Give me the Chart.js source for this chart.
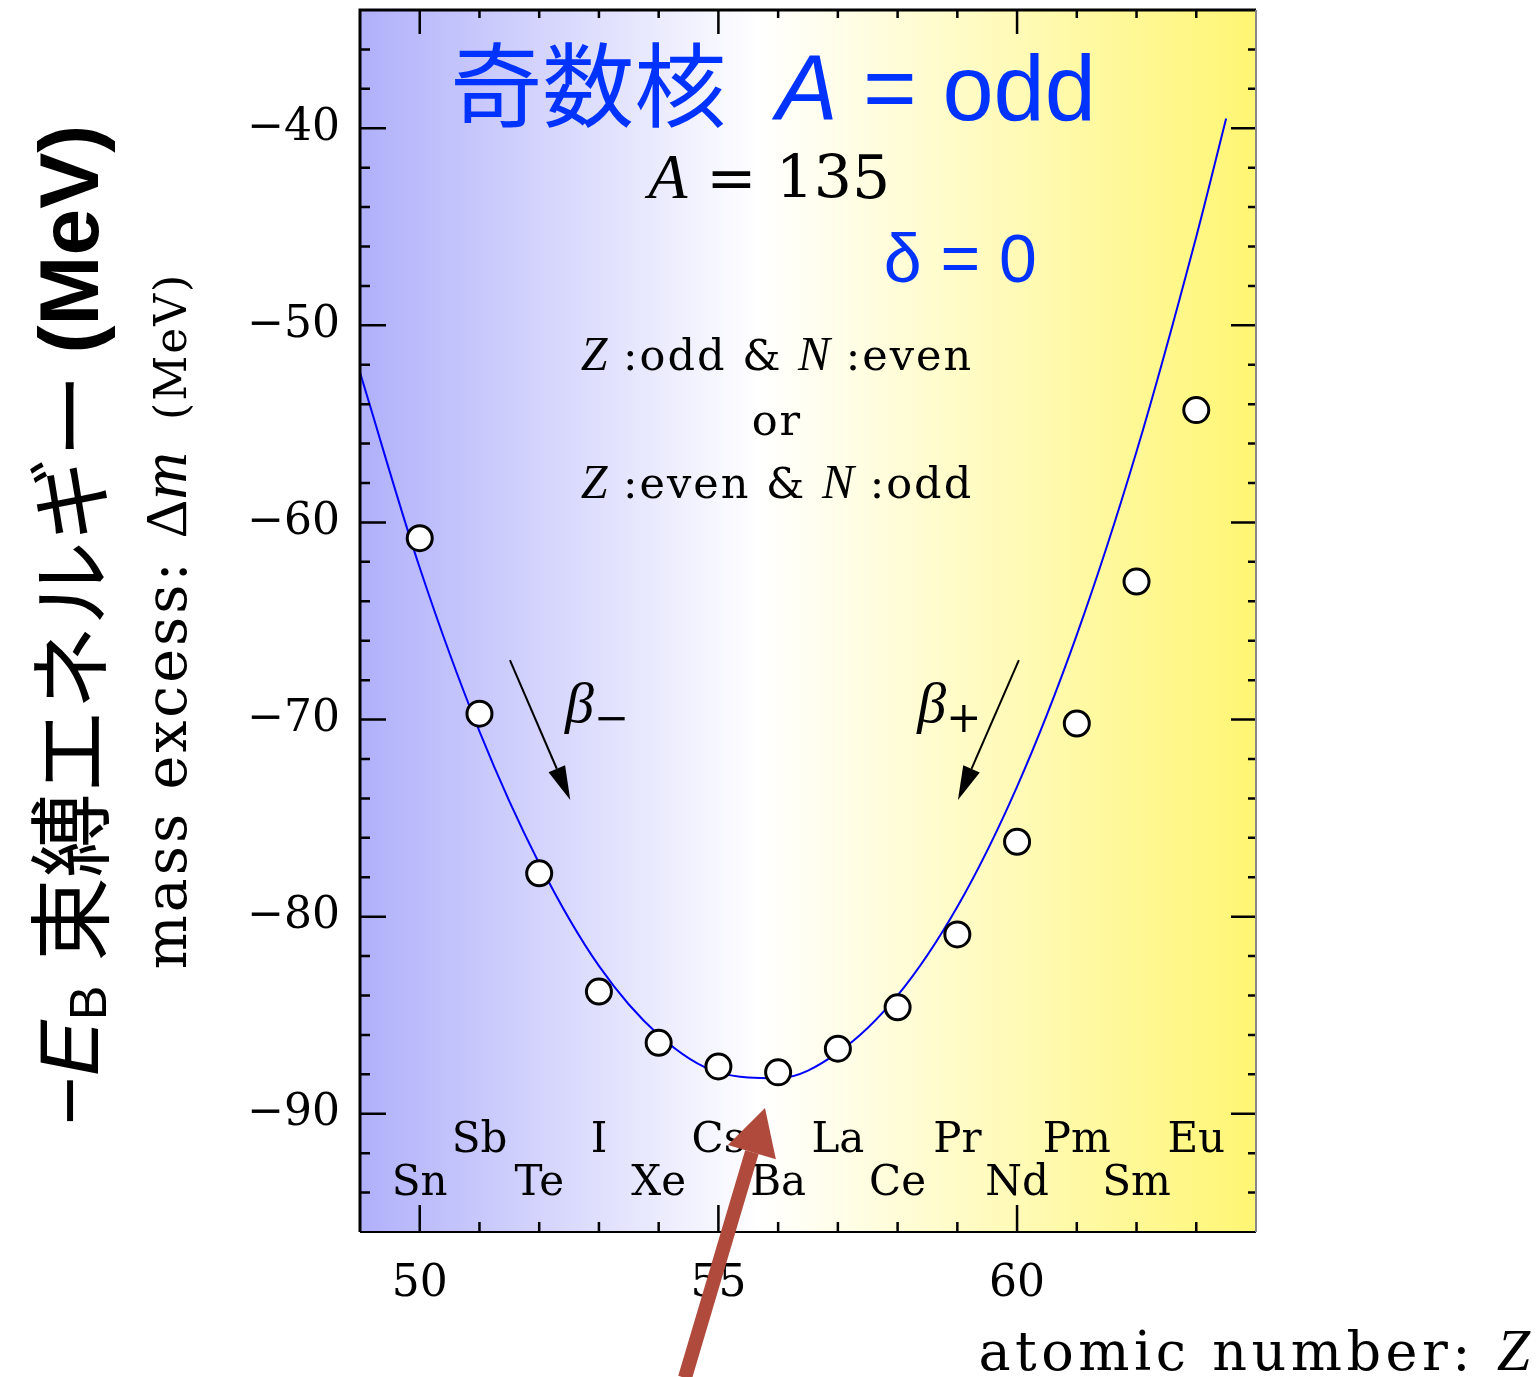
<!DOCTYPE html>
<html>
<head>
<meta charset="utf-8">
<script src="https://cdn.jsdelivr.net/npm/chart.js@4.4.0/dist/chart.umd.min.js"></script>
<style>
  html, body { margin: 0; padding: 0; background: #fff; }
  canvas { display: block; }
</style>
</head>
<body>
<canvas id="chart" width="1539" height="1377"></canvas>
<script>
// atomic number Z and element symbols for A = 135
const zValues = [50, 51, 52, 53, 54, 55, 56, 57, 58, 59, 60, 61, 62, 63];
const elements = ["Sn", "Sb", "Te", "I", "Xe", "Cs", "Ba", "La", "Ce", "Pr", "Nd", "Pm", "Sm", "Eu"];
// measured mass excess (MeV)
const massExcess = [-60.8, -69.7, -77.8, -83.8, -86.4, -87.6, -87.9, -86.7, -84.6, -80.9, -76.2, -70.2, -63.0, -54.3];
// mass formula curve
const curveZ = [49, 50, 51, 52, 53, 54, 55, 56, 57, 58, 59, 60, 61, 62, 63, 63.5];
const curveValues = [-52.4, -62.3, -70.6, -77.3, -82.5, -86.0, -87.9, -88.2, -86.9, -84.0, -79.5, -73.4, -65.7, -56.4, -45.5, -39.5];
// axis ticks
const xTickLabels = [50, 55, 60];
const yTickLabels = [-90, -80, -70, -60, -50, -40];

const BLUE = "#0033ff";
const SERIF = "'DejaVu Serif', serif";
const MATH = "'Liberation Serif', serif";
const SANS = "'Liberation Sans', Arial, sans-serif";
const CJK = "'Noto Sans CJK JP', sans-serif";

// draw a row of text pieces with different fonts
function drawRuns(ctx, runs, x, y, align) {
  let total = 0;
  runs.forEach(r => {
    ctx.font = r.f;
    ctx.letterSpacing = (r.ls || 0) + "px";
    r.w = ctx.measureText(r.t).width + (r.gap || 0);
    total += r.w;
  });
  let cx = align === "center" ? x - total / 2 : align === "right" ? x - total : x;
  runs.forEach(r => {
    ctx.font = r.f;
    ctx.letterSpacing = (r.ls || 0) + "px";
    ctx.fillStyle = r.c || "#000";
    ctx.fillText(r.t, cx, y + (r.dy || 0));
    cx += r.w;
  });
  ctx.letterSpacing = "0px";
}

function arrow(ctx, x0, y0, x1, y1, width, headLen, headW, color) {
  const ang = Math.atan2(y1 - y0, x1 - x0);
  const bx = x1 - headLen * Math.cos(ang);
  const by = y1 - headLen * Math.sin(ang);
  ctx.save();
  ctx.strokeStyle = color;
  ctx.fillStyle = color;
  ctx.lineWidth = width;
  ctx.beginPath();
  ctx.moveTo(x0, y0);
  ctx.lineTo(bx, by);
  ctx.stroke();
  const nx = -Math.sin(ang), ny = Math.cos(ang);
  ctx.beginPath();
  ctx.moveTo(x1, y1);
  ctx.lineTo(bx + nx * headW / 2, by + ny * headW / 2);
  ctx.lineTo(bx - nx * headW / 2, by - ny * headW / 2);
  ctx.closePath();
  ctx.fill();
  ctx.restore();
}

const decor = {
  id: "decor",
  beforeDraw(chart) {
    const { ctx, chartArea: a } = chart;
    const g = ctx.createLinearGradient(a.left, 0, a.right, 0);
    g.addColorStop(0, "rgb(176,176,251)");
    g.addColorStop(0.446, "#ffffff");
    g.addColorStop(1, "rgb(255,246,115)");
    ctx.save();
    ctx.fillStyle = g;
    ctx.fillRect(a.left, a.top, a.right - a.left, a.bottom - a.top);
    ctx.restore();
  },
  beforeDatasetsDraw(chart) {
    const { ctx, scales: { x, y } } = chart;
    const px = v => x.getPixelForValue(v);
    const py = v => y.getPixelForValue(v);
    ctx.save();
    ctx.textBaseline = "alphabetic";

    // element symbols, odd Z on upper row
    ctx.textAlign = "center";
    ctx.font = "42px " + SERIF;
    ctx.fillStyle = "#000";
    zValues.forEach((z, i) => {
      ctx.fillText(elements[i], px(z), py(z % 2 ? -91.94 : -94.12));
    });
    ctx.textAlign = "left";

    // title
    drawRuns(ctx, [
      { t: "奇数核", f: "92px " + CJK, c: BLUE, gap: 50 },
      { t: "A", f: "italic 92px " + SANS, c: BLUE },
      { t: " = odd", f: "92px " + SANS, c: BLUE }
    ], px(50.51), py(-39.58), "left");

    drawRuns(ctx, [
      { t: "A", f: "italic 64px " + MATH },
      { t: " = ", f: "60px " + SERIF },
      { t: "135", f: "60px " + SERIF }
    ], px(55.85), py(-43.54), "center");

    drawRuns(ctx, [
      { t: "δ = 0", f: "68px " + SANS, c: BLUE }
    ], px(59.05), py(-47.8), "center");

    const tt = "43px " + SERIF, it = "italic 48px " + MATH;
    drawRuns(ctx, [
      { t: "Z", f: it }, { t: " :odd & ", f: tt, ls: 2 }, { t: "N", f: it }, { t: " :even", f: tt, ls: 2 }
    ], px(55.98), py(-52.26), "center");
    drawRuns(ctx, [{ t: "or", f: tt, ls: 2 }], px(55.98), py(-55.56), "center");
    drawRuns(ctx, [
      { t: "Z", f: it }, { t: " :even & ", f: tt, ls: 2 }, { t: "N", f: it }, { t: " :odd", f: tt, ls: 2 }
    ], px(55.98), py(-58.76), "center");

    // beta decay arrows
    arrow(ctx, px(51.51), py(-66.98), px(52.52), py(-74.08), 2, 34, 18, "#000");
    arrow(ctx, px(60.03), py(-66.98), px(59.01), py(-74.08), 2, 34, 18, "#000");
    drawRuns(ctx, [
      { t: "β", f: "italic 58px " + MATH },
      { t: "−", f: "42px " + SERIF, dy: 10 }
    ], px(52.43), py(-70.12), "left");
    drawRuns(ctx, [
      { t: "β", f: "italic 58px " + MATH },
      { t: "+", f: "42px " + SERIF, dy: 10 }
    ], px(58.33), py(-70.12), "left");
    ctx.restore();
  },
  afterDatasetsDraw(chart) {
    const { ctx, chartArea: a, scales: { x, y } } = chart;
    ctx.save();
    ctx.strokeStyle = "#000";
    ctx.lineWidth = 2.5;
    ctx.beginPath();
    // inward ticks on all four sides
    for (let z = 50; z <= 63; z++) {
      const p = x.getPixelForValue(z);
      const major = z % 5 === 0;
      ctx.moveTo(p, a.bottom); ctx.lineTo(p, a.bottom - (major ? 27 : 10));
      ctx.moveTo(p, a.top); ctx.lineTo(p, a.top + (major ? 24 : 8));
    }
    for (let v = -94; v <= -36; v += 2) {
      const p = y.getPixelForValue(v);
      const major = v % 10 === 0;
      ctx.moveTo(a.left, p); ctx.lineTo(a.left + (major ? 26 : 10), p);
      ctx.moveTo(a.right, p); ctx.lineTo(a.right - (major ? 25 : 8), p);
    }
    ctx.stroke();
    // frame
    ctx.lineWidth = 3;
    ctx.beginPath();
    ctx.moveTo(a.left, a.bottom); ctx.lineTo(a.left, a.top); ctx.lineTo(a.right, a.top);
    ctx.stroke();
    ctx.lineWidth = 2;
    ctx.beginPath();
    ctx.moveTo(a.left, a.bottom); ctx.lineTo(a.right, a.bottom);
    ctx.stroke();
    ctx.strokeStyle = "#888";
    ctx.beginPath();
    ctx.moveTo(a.right, a.top); ctx.lineTo(a.right, a.bottom);
    ctx.stroke();
    ctx.restore();
  },
  afterDraw(chart) {
    const { ctx, scales: { x, y } } = chart;
    ctx.save();
    ctx.textBaseline = "alphabetic";

    // outer y title
    ctx.save();
    ctx.translate(98, 625);
    ctx.rotate(-Math.PI / 2);
    drawRuns(ctx, [
      { t: "−", f: "84px " + SANS },
      { t: "E", f: "italic 84px " + SANS },
      { t: "B", f: "52px " + SANS, dy: 8, gap: 24 },
      { t: "束縛エネルギー", f: "84px " + CJK, dy: 4, gap: 20 },
      { t: "(MeV)", f: "bold 84px " + SANS }
    ], 0, 0, "center");
    ctx.restore();

    // inner y title
    ctx.save();
    ctx.translate(186, 621);
    ctx.rotate(-Math.PI / 2);
    drawRuns(ctx, [
      { t: "mass excess: ", f: "57px " + SERIF, ls: 3 },
      { t: "Δ", f: "60px " + MATH },
      { t: "m", f: "italic 66px " + MATH, gap: 32 },
      { t: "(MeV)", f: "44px " + SERIF, ls: 2 }
    ], 0, 0, "center");
    ctx.restore();

    // x title
    drawRuns(ctx, [
      { t: "atomic number: ", f: "54px " + SERIF, ls: 4.5 },
      { t: "Z", f: "italic 60px " + MATH }
    ], 1530, 1370, "right");

    // highlight arrow
    arrow(ctx, x.getPixelForValue(54.44), y.getPixelForValue(-103.4),
      x.getPixelForValue(55.78), y.getPixelForValue(-89.71), 14, 46, 50, "rgb(175,74,60)");
    ctx.restore();
  }
};

const ctx = document.getElementById("chart").getContext("2d");
const chart = new Chart(ctx, {
  type: "scatter",
  data: {
    datasets: [
      {
        label: "mass excess",
        data: zValues.map((z, i) => ({ x: z, y: massExcess[i] })),
        pointRadius: 12.5,
        pointBackgroundColor: "#fff",
        pointBorderColor: "#000",
        pointBorderWidth: 3,
        showLine: false,
        order: 0
      },
      {
        label: "mass formula",
        data: curveZ.map((z, i) => ({ x: z, y: curveValues[i] })),
        showLine: true,
        pointRadius: 0,
        borderColor: "#0000ff",
        borderWidth: 2,
        cubicInterpolationMode: "monotone",
        order: 1
      }
    ]
  },
  options: {
    responsive: false,
    animation: false,
    layout: { autoPadding: false, padding: { top: 10, right: 283, bottom: 0, left: 0 } },
    plugins: { legend: { display: false }, tooltip: { enabled: false } },
    scales: {
      x: {
        type: "linear",
        min: 49,
        max: 64,
        grid: { display: false },
        border: { display: false },
        afterBuildTicks: s => { s.ticks = xTickLabels.map(v => ({ value: v })); },
        afterFit: s => { s.height = 145; s.paddingLeft = 0; s.paddingRight = 0; },
        ticks: { color: "#000", padding: 18, font: { family: SERIF, size: 44 } }
      },
      y: {
        type: "linear",
        min: -96,
        max: -34,
        grid: { display: false },
        border: { display: false },
        afterBuildTicks: s => { s.ticks = yTickLabels.map(v => ({ value: v })); },
        afterFit: s => { s.width = 360; s.paddingTop = 0; s.paddingBottom = 0; },
        ticks: {
          color: "#000",
          padding: 12,
          font: { family: SERIF, size: 44 },
          callback: v => "\u2212" + Math.abs(v)
        }
      }
    }
  },
  plugins: [decor]
});
</script>
</body>
</html>
